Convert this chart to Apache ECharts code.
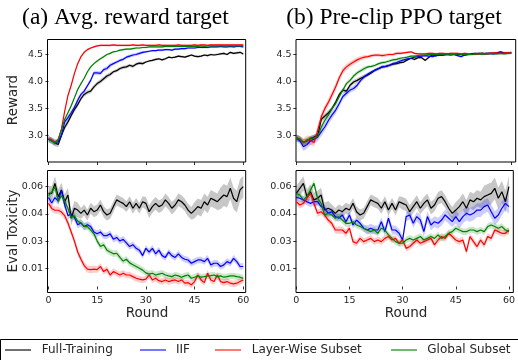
<!DOCTYPE html>
<html><head><meta charset="utf-8">
<script src="https://cdn.jsdelivr.net/npm/echarts@6/dist/echarts.min.js"></script>
<style>html,body{margin:0;padding:0;background:#fff}#c{width:518px;height:360px}</style>
</head><body><div id="c"></div>
<script>
const rounds = [0,1,2,3,4,5,6,7,8,9,10,11,12,13,14,15,16,17,18,19,20,21,22,23,24,25,26,27,28,29,30,31,32,33,34,35,36,37,38,39,40,41,42,43,44,45,46,47,48,49,50,51,52,53,54,55,56,57,58,59,60];
const roundTicks = [0,15,30,45,60];
const rewardTicks = [3.0,3.5,4.0,4.5];
const rewardTickLabels = ['3.0','3.5','4.0','4.5'];
const toxTicks = [0.01,0.025,0.04,0.055];
const toxTickLabels = ['0.01','0.03','0.04','0.06'];
const seriesNames = ['Full-Training','IIF','Layer-Wise Subset','Global Subset'];

// (a) Avg. reward target — Reward
const rewA_full = [2.93,2.90,2.86,2.83,3.00,3.15,3.25,3.37,3.48,3.57,3.68,3.76,3.80,3.82,3.90,3.96,4.00,4.05,4.10,4.13,4.18,4.20,4.24,4.26,4.27,4.30,4.28,4.32,4.34,4.33,4.36,4.38,4.39,4.41,4.42,4.40,4.42,4.45,4.44,4.45,4.47,4.46,4.45,4.47,4.49,4.47,4.46,4.47,4.49,4.48,4.50,4.49,4.50,4.51,4.52,4.50,4.54,4.52,4.53,4.54,4.51];
const rewA_iif = [2.93,2.90,2.87,2.88,3.00,3.25,3.33,3.42,3.52,3.65,3.76,3.82,3.92,4.02,4.16,4.16,4.15,4.22,4.24,4.30,4.33,4.36,4.39,4.41,4.45,4.47,4.49,4.50,4.52,4.54,4.55,4.56,4.57,4.57,4.58,4.58,4.59,4.59,4.58,4.60,4.60,4.61,4.61,4.62,4.62,4.62,4.63,4.63,4.63,4.63,4.64,4.64,4.64,4.65,4.64,4.64,4.65,4.64,4.65,4.65,4.64];
const rewA_layer = [2.93,2.92,2.87,2.92,3.12,3.45,3.74,3.93,4.15,4.33,4.46,4.54,4.59,4.62,4.64,4.66,4.67,4.67,4.67,4.67,4.68,4.67,4.67,4.67,4.67,4.67,4.68,4.67,4.67,4.68,4.67,4.67,4.67,4.67,4.68,4.67,4.67,4.67,4.67,4.67,4.68,4.67,4.67,4.67,4.67,4.68,4.67,4.68,4.68,4.67,4.68,4.68,4.68,4.68,4.68,4.68,4.68,4.68,4.68,4.68,4.68];
const rewA_global = [2.93,2.90,2.85,2.92,3.10,3.30,3.42,3.55,3.70,3.85,3.96,4.06,4.18,4.27,4.33,4.38,4.42,4.46,4.50,4.52,4.55,4.56,4.58,4.59,4.60,4.60,4.61,4.62,4.62,4.63,4.63,4.64,4.64,4.64,4.64,4.64,4.65,4.65,4.65,4.65,4.65,4.65,4.65,4.65,4.65,4.65,4.65,4.66,4.65,4.66,4.66,4.66,4.66,4.66,4.66,4.66,4.66,4.66,4.66,4.66,4.66];

// (b) Pre-clip PPO target — Reward
const rewB_full = [2.95,2.93,2.87,2.90,2.94,2.97,3.00,3.30,3.36,3.42,3.50,3.62,3.76,3.84,3.82,3.93,3.99,4.02,4.06,4.09,4.12,4.16,4.21,4.24,4.27,4.28,4.30,4.32,4.33,4.35,4.36,4.40,4.43,4.41,4.44,4.44,4.39,4.45,4.49,4.48,4.49,4.49,4.50,4.49,4.50,4.50,4.50,4.49,4.50,4.51,4.51,4.52,4.52,4.51,4.52,4.52,4.53,4.55,4.53,4.52,4.53];
const rewB_iif = [2.95,2.90,2.79,2.83,2.90,2.93,2.97,3.07,3.16,3.28,3.38,3.47,3.59,3.72,3.78,3.84,3.87,3.93,4.02,4.09,4.14,4.18,4.21,4.24,4.27,4.28,4.30,4.33,4.35,4.38,4.40,4.42,4.43,4.45,4.46,4.47,4.48,4.47,4.46,4.48,4.49,4.49,4.50,4.50,4.50,4.48,4.46,4.49,4.50,4.51,4.52,4.51,4.51,4.52,4.52,4.51,4.52,4.53,4.52,4.53,4.53];
const rewB_layer = [2.96,2.93,2.86,2.92,2.90,2.87,3.10,3.35,3.50,3.62,3.76,3.90,4.07,4.20,4.27,4.32,4.36,4.40,4.43,4.45,4.46,4.48,4.49,4.49,4.48,4.49,4.50,4.50,4.52,4.52,4.53,4.54,4.55,4.52,4.51,4.51,4.51,4.52,4.52,4.51,4.52,4.52,4.51,4.52,4.52,4.52,4.51,4.52,4.51,4.50,4.50,4.51,4.52,4.51,4.52,4.53,4.53,4.52,4.53,4.53,4.54];
const rewB_global = [2.95,2.93,2.87,2.90,2.95,2.95,2.98,3.16,3.28,3.38,3.50,3.59,3.72,3.84,3.96,4.02,4.10,4.16,4.20,4.24,4.27,4.28,4.30,4.33,4.35,4.36,4.38,4.40,4.41,4.43,4.44,4.45,4.47,4.47,4.48,4.49,4.49,4.50,4.50,4.50,4.51,4.50,4.51,4.50,4.50,4.51,4.50,4.51,4.50,4.50,4.51,4.51,4.50,4.52,4.51,4.52,4.51,4.52,4.51,4.52,4.52];

// (a) Eval Toxicity
const toxA_full = [0.0513,0.0513,0.0568,0.0495,0.0532,0.0467,0.0504,0.0376,0.0431,0.0421,0.0403,0.0421,0.0394,0.0431,0.0412,0.0421,0.0449,0.0412,0.0394,0.0403,0.0440,0.0477,0.0467,0.0458,0.0440,0.0467,0.0431,0.0458,0.0431,0.0467,0.0458,0.0412,0.0440,0.0458,0.0440,0.0449,0.0477,0.0458,0.0431,0.0449,0.0477,0.0467,0.0449,0.0421,0.0403,0.0421,0.0440,0.0431,0.0467,0.0449,0.0486,0.0477,0.0467,0.0486,0.0504,0.0495,0.0541,0.0486,0.0467,0.0532,0.0550];
const toxA_iif = [0.049,0.046,0.049,0.047,0.053,0.045,0.039,0.040,0.038,0.034,0.035,0.033,0.034,0.033,0.030,0.029,0.030,0.028,0.028,0.029,0.026,0.027,0.025,0.026,0.024,0.022,0.023,0.021,0.020,0.017,0.021,0.019,0.021,0.018,0.020,0.017,0.016,0.019,0.017,0.016,0.018,0.016,0.015,0.0146,0.0128,0.0137,0.0146,0.0146,0.0137,0.0155,0.0119,0.0128,0.0128,0.0110,0.0119,0.0137,0.0128,0.0155,0.0137,0.0110,0.0110];
const toxA_layer = [0.0458,0.043,0.042,0.042,0.041,0.039,0.035,0.030,0.025,0.019,0.015,0.0115,0.0095,0.0093,0.0095,0.0093,0.0110,0.0082,0.0095,0.0063,0.0082,0.0073,0.0063,0.0073,0.0063,0.0063,0.0054,0.0045,0.0040,0.0036,0.0040,0.0063,0.0036,0.0045,0.0032,0.0027,0.0036,0.0027,0.0032,0.0036,0.0027,0.0036,0.0018,0.0021,0.0009,0.0027,0.0063,0.0036,0.0021,0.0073,0.0036,0.0027,0.0063,0.0027,0.0021,0.0027,0.0018,0.0014,0.0018,0.0027,0.0036];
const toxA_global = [0.050,0.052,0.055,0.047,0.050,0.047,0.043,0.038,0.039,0.036,0.035,0.033,0.033,0.031,0.029,0.025,0.022,0.023,0.020,0.019,0.018,0.0183,0.016,0.014,0.015,0.013,0.012,0.011,0.010,0.009,0.0075,0.0068,0.0073,0.0063,0.0068,0.0073,0.0063,0.0058,0.0054,0.0063,0.0058,0.0051,0.0058,0.0063,0.0045,0.0051,0.0058,0.0051,0.0054,0.0058,0.0060,0.0063,0.0054,0.0058,0.0051,0.0054,0.0058,0.0058,0.0054,0.0051,0.0045];

// (b) Eval Toxicity
const toxB_full = [0.0513,0.0541,0.0568,0.0495,0.0522,0.0477,0.0486,0.0504,0.0421,0.0431,0.0421,0.0403,0.0421,0.0412,0.0431,0.0421,0.0458,0.0412,0.0394,0.0403,0.0440,0.0477,0.0467,0.0458,0.0431,0.0467,0.0421,0.0458,0.0421,0.0467,0.0458,0.0449,0.0412,0.0440,0.0467,0.0431,0.0458,0.0477,0.0431,0.0449,0.0486,0.0495,0.0467,0.0431,0.0403,0.0421,0.0440,0.0467,0.0431,0.0477,0.0467,0.0486,0.0477,0.0495,0.0504,0.0513,0.0541,0.0486,0.0522,0.0467,0.0550];
const toxB_iif = [0.0491,0.0486,0.0477,0.0467,0.0458,0.0467,0.0467,0.0440,0.0431,0.0403,0.0412,0.0385,0.0376,0.0394,0.0357,0.0394,0.0339,0.0366,0.0348,0.0321,0.0311,0.0321,0.0311,0.0311,0.0357,0.0302,0.0376,0.0311,0.0311,0.0293,0.0256,0.0385,0.0394,0.0348,0.0385,0.0366,0.0302,0.0385,0.0339,0.0357,0.0348,0.0366,0.0394,0.0376,0.0357,0.0385,0.0357,0.0385,0.0403,0.0394,0.0403,0.0421,0.0421,0.0440,0.0449,0.0412,0.0376,0.0394,0.0431,0.0458,0.0440];
const toxB_layer = [0.0467,0.0449,0.0458,0.0486,0.0513,0.0458,0.0403,0.0412,0.0394,0.0366,0.0348,0.0311,0.0311,0.0311,0.0293,0.0321,0.0247,0.0238,0.0265,0.0247,0.0256,0.0265,0.0247,0.0256,0.0247,0.0265,0.0275,0.0256,0.0265,0.0238,0.0256,0.0210,0.0220,0.0238,0.0256,0.0238,0.0247,0.0256,0.0265,0.0229,0.0256,0.0275,0.0265,0.0293,0.0275,0.0256,0.0247,0.0256,0.0192,0.0275,0.0247,0.0220,0.0256,0.0229,0.0275,0.0265,0.0311,0.0302,0.0293,0.0293,0.0311];
const toxB_global = [0.0513,0.0504,0.0477,0.0495,0.0532,0.0568,0.0486,0.0458,0.0394,0.0403,0.0394,0.0376,0.0385,0.0366,0.0348,0.0348,0.0357,0.0339,0.0330,0.0321,0.0311,0.0302,0.0311,0.0293,0.0321,0.0311,0.0284,0.0265,0.0247,0.0238,0.0238,0.0256,0.0265,0.0256,0.0265,0.0275,0.0256,0.0265,0.0275,0.0265,0.0284,0.0265,0.0275,0.0293,0.0302,0.0321,0.0311,0.0302,0.0302,0.0311,0.0311,0.0302,0.0311,0.0302,0.0330,0.0339,0.0330,0.0321,0.0330,0.0311,0.0302];

// shaded band half-widths
const bandRewardLow = [0.04,0.04,0.04,0.03,0.03,0.03,0.03,0.03,0.03,0.03,0.02,0.02,0.02,0.02,0.02,0.02,0.02,0.02,0.02,0.02,0.02,0.02,0.02,0.02,0.02,0.02,0.02,0.02,0.02,0.02,0.02,0.02,0.02,0.02,0.02,0.02,0.02,0.02,0.02,0.02,0.02,0.02,0.02,0.02,0.02,0.02,0.02,0.02,0.02,0.02,0.02,0.02,0.02,0.02,0.02,0.02,0.02,0.02,0.02,0.02,0.02];
const bandRewardMid = [0.06,0.06,0.06,0.05,0.05,0.05,0.05,0.05,0.05,0.05,0.04,0.04,0.04,0.04,0.04,0.04,0.04,0.04,0.04,0.04,0.03,0.03,0.03,0.03,0.03,0.03,0.03,0.03,0.03,0.03,0.02,0.02,0.02,0.02,0.02,0.02,0.02,0.02,0.02,0.02,0.02,0.02,0.02,0.02,0.02,0.02,0.02,0.02,0.02,0.02,0.02,0.02,0.02,0.02,0.02,0.02,0.02,0.02,0.02,0.02,0.02];
const bandRewardHigh = [0.06,0.06,0.08,0.08,0.08,0.08,0.08,0.08,0.07,0.07,0.07,0.07,0.06,0.06,0.06,0.05,0.05,0.05,0.04,0.04,0.03,0.03,0.03,0.03,0.03,0.03,0.03,0.03,0.03,0.03,0.02,0.02,0.02,0.02,0.02,0.02,0.02,0.02,0.02,0.02,0.02,0.02,0.02,0.02,0.02,0.02,0.02,0.02,0.02,0.02,0.02,0.02,0.02,0.02,0.02,0.02,0.02,0.02,0.02,0.02,0.02];
const bandToxBlack = [0.004,0.004,0.004,0.004,0.004,0.004,0.004,0.004,0.004,0.004,0.003,0.003,0.003,0.003,0.003,0.003,0.003,0.003,0.003,0.003,0.003,0.003,0.003,0.003,0.003,0.003,0.003,0.003,0.003,0.003,0.0035,0.0035,0.0035,0.0035,0.0035,0.0035,0.0035,0.0035,0.0035,0.0035,0.0035,0.0035,0.0035,0.0035,0.0035,0.0045,0.0045,0.0045,0.0045,0.0045,0.0045,0.0045,0.0045,0.006,0.006,0.006,0.006,0.006,0.006,0.006,0.006];
const bandToxColor = [0.002,0.002,0.002,0.002,0.002,0.002,0.002,0.002,0.002,0.002,0.002,0.002,0.002,0.002,0.002,0.0018,0.0018,0.0018,0.0018,0.0018,0.0018,0.0018,0.0018,0.0018,0.0018,0.0018,0.0018,0.0018,0.0018,0.0018,0.0018,0.0018,0.0018,0.0018,0.0018,0.0018,0.0018,0.0018,0.0018,0.0018,0.0018,0.0018,0.0018,0.0018,0.0018,0.0018,0.0018,0.0018,0.0018,0.0018,0.0018,0.0018,0.0018,0.0018,0.0018,0.0018,0.0018,0.0018,0.0018,0.0018,0.0018];
const bandToxWide = [0.002,0.002,0.002,0.002,0.002,0.002,0.002,0.002,0.002,0.002,0.002,0.002,0.002,0.002,0.002,0.002,0.002,0.002,0.002,0.002,0.0025,0.0025,0.0025,0.0025,0.0025,0.0025,0.0025,0.0025,0.0025,0.0025,0.0025,0.0025,0.0025,0.0025,0.0025,0.003,0.003,0.003,0.003,0.003,0.003,0.003,0.003,0.003,0.003,0.0038,0.0038,0.0038,0.0038,0.0038,0.0038,0.0038,0.0038,0.0038,0.0038,0.0038,0.0038,0.0038,0.0038,0.0038,0.0038];

const panels = [
  [[rewA_full,bandRewardMid],[rewA_iif,bandRewardMid],[rewA_layer,bandRewardLow],[rewA_global,bandRewardLow]],
  [[rewB_full,bandRewardMid],[rewB_iif,bandRewardHigh],[rewB_layer,bandRewardHigh],[rewB_global,bandRewardMid]],
  [[toxA_full,bandToxBlack],[toxA_iif,bandToxColor],[toxA_layer,bandToxColor],[toxA_global,bandToxColor]],
  [[toxB_full,bandToxBlack],[toxB_iif,bandToxWide],[toxB_layer,bandToxColor],[toxB_global,bandToxColor]]
];

const colors = ['#000000','#0000ff','#ff0000','#008000'];
const bandColors = ['rgba(0,0,0,0.22)','rgba(0,0,255,0.2)','rgba(255,0,0,0.2)','rgba(0,128,0,0.2)'];
const legendColors = ['#404040','#4a4aff','#ff4a4a','#40a040'];

const grids = [
  {left:47.5, top:39.5, width:198.2, height:122.5},
  {left:296, top:39.5, width:219.7, height:122.5},
  {left:47.5, top:170.5, width:198.2, height:122},
  {left:296, top:170.5, width:219.7, height:122}
].map(g => Object.assign({show:true, borderColor:'#000', borderWidth:1, backgroundColor:'transparent', containLabel:false}, g));

const labelStyle = {fontSize:9.5, color:'#262626', fontFamily:'DejaVu Sans'};
function xAx(i, min, max, showLabel){
  return {type:'value', gridIndex:i, min:min, max:max,
    axisLine:{show:false}, splitLine:{show:false},
    axisTick:{show:true, inside:false, length:3, customValues:roundTicks, lineStyle:{color:'#000', width:0.8}},
    axisLabel:Object.assign({show:showLabel, margin:3.5, customValues:roundTicks}, labelStyle)};
}
function yAx(i, min, max, ticks, labels){
  return {type:'value', gridIndex:i, min:min, max:max,
    axisLine:{show:false}, splitLine:{show:false},
    axisTick:{show:true, inside:false, length:3, customValues:ticks, lineStyle:{color:'#000', width:0.8}},
    axisLabel:Object.assign({show:true, margin:4.5, customValues:ticks,
      formatter:function(v){ const k = ticks.indexOf(v); return k >= 0 ? labels[k] : ''; }}, labelStyle)};
}

function bandRenderer(lo, hi, color){
  return function(params, api){
    if (params.dataIndex !== 0) return null;
    const pts = [];
    for (let k = 0; k < rounds.length; k++) pts.push(api.coord([rounds[k], hi[k]]));
    for (let k = rounds.length - 1; k >= 0; k--) pts.push(api.coord([rounds[k], lo[k]]));
    return {type:'polygon', shape:{points:pts}, style:{fill:color}};
  };
}

const series = [];
panels.forEach((p, pi) => {
  p.forEach(([vals, band], si) => {
    const lo = vals.map((v,k) => v - band[k]);
    const hi = vals.map((v,k) => v + band[k]);
    series.push({type:'custom', name:seriesNames[si]+' band', xAxisIndex:pi, yAxisIndex:pi, silent:true, z:1, clip:true,
      renderItem: bandRenderer(lo, hi, bandColors[si]),
      encode:{x:0, y:[1,2]},
      data: rounds.map((r,k) => [r, lo[k], hi[k]])});
  });
  p.forEach(([vals], si) => {
    series.push({type:'line', name:seriesNames[si], xAxisIndex:pi, yAxisIndex:pi, symbol:'none', silent:true, z:2,
      lineStyle:{color:colors[si], width:1.2}, itemStyle:{color:colors[si]},
      data: rounds.map((r,k) => [r, vals[k]])});
  });
});

const graphic = [
  {type:'text', x:125.4, y:17.5, style:{text:'(a) Avg. reward target', fontSize:23.5, fontFamily:'Liberation Serif', fill:'#000', align:'center', verticalAlign:'middle'}},
  {type:'text', x:394, y:17.5, style:{text:'(b) Pre-clip PPO target', fontSize:23.5, fontFamily:'Liberation Serif', fill:'#000', align:'center', verticalAlign:'middle'}},
  {type:'text', x:13.8, y:100, rotation:Math.PI/2, style:{text:'Reward', fontSize:13.5, fontFamily:'DejaVu Sans', fill:'#262626', align:'center', verticalAlign:'middle'}},
  {type:'text', x:13.8, y:231, rotation:Math.PI/2, style:{text:'Eval Toxicity', fontSize:13.5, fontFamily:'DejaVu Sans', fill:'#262626', align:'center', verticalAlign:'middle'}},
  {type:'text', x:147, y:313.5, style:{text:'Round', fontSize:13.5, fontFamily:'DejaVu Sans', fill:'#262626', align:'center', verticalAlign:'middle'}},
  {type:'text', x:406, y:313.5, style:{text:'Round', fontSize:13.5, fontFamily:'DejaVu Sans', fill:'#262626', align:'center', verticalAlign:'middle'}},
  {type:'rect', shape:{x:0.5, y:339.5, width:540, height:40}, style:{fill:'#fff', stroke:'#000', lineWidth:1}}
];
const legendLineX = [5, 140, 215, 391];
const legendTextX = [41.7, 176, 251.7, 427.3];
seriesNames.forEach((n, i) => {
  graphic.push({type:'line', shape:{x1:legendLineX[i], y1:350, x2:legendLineX[i]+26, y2:350}, style:{stroke:legendColors[i], lineWidth:1.5}});
  graphic.push({type:'text', x:legendTextX[i], y:350, style:{text:n, fontSize:12, fontFamily:'DejaVu Sans', fill:'#262626', align:'left', verticalAlign:'middle'}});
});

const chart = echarts.init(document.getElementById('c'), null, {renderer:'canvas'});
chart.setOption({
  animation:false,
  backgroundColor:'#fff',
  textStyle:{fontFamily:'DejaVu Sans'},
  grid:grids,
  xAxis:[xAx(0,-0.3,60.74,false), xAx(1,-0.08,61.23,false), xAx(2,-0.3,60.74,true), xAx(3,-0.08,61.23,true)],
  yAxis:[yAx(0,2.506,4.778,rewardTicks,rewardTickLabels), yAx(1,2.506,4.778,rewardTicks,rewardTickLabels),
         yAx(2,-0.00333,0.0639,toxTicks,toxTickLabels), yAx(3,-0.00333,0.0639,toxTicks,toxTickLabels)],
  series:series,
  graphic:graphic
});
</script>
</body></html>
